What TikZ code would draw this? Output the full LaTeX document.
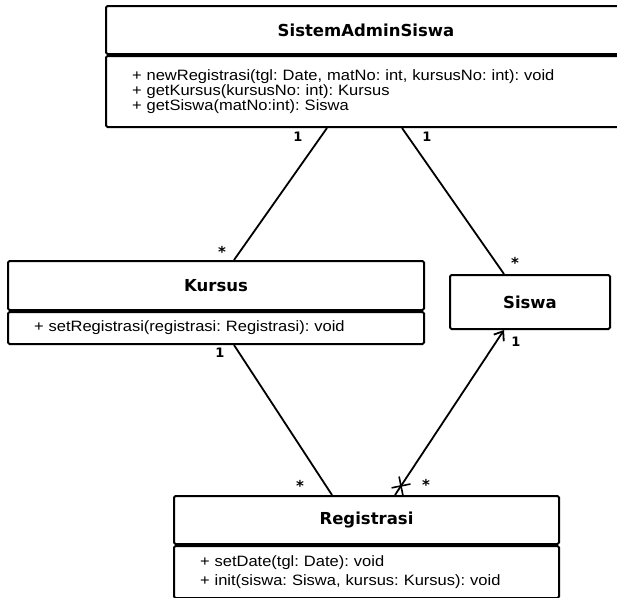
\documentclass[tikz,border=0pt]{standalone}
\usepackage{fontspec}
\setmainfont{Liberation Sans}
\newfontfamily\classfont{DejaVu Sans}
\newfontfamily\opsfont[FakeStretch=1.1]{Liberation Sans}
\usetikzlibrary{positioning,arrows.meta,shapes.misc}

\begin{document}
\frenchspacing
\begin{tikzpicture}[
    x=1pt, y=-1pt,
    node distance=0pt,
    classhead/.style={draw, line width=2pt, rounded corners=1.5pt, inner sep=0pt, font=\classfont\bfseries\fontsize{16.5}{18}\selectfont},
    ops/.style={draw, line width=2pt, rounded corners=1.5pt, inner xsep=26pt, inner ysep=0pt, align=left, font=\opsfont\fontsize{15}{15}\selectfont},
    assoc/.style={line width=1.8pt},
    nav/.style={assoc, -{Straight Barb[length=8pt, width=12pt, line width=1.8pt]}},
    mult/.style={font=\classfont\bfseries\fontsize{13}{13}\selectfont, inner sep=0pt},
    many/.style={mult, font=\classfont\bfseries\fontsize{15}{15}\selectfont, yshift=-5pt},
    nonav/.style={cross out, draw, line width=1.6pt, minimum size=12pt, inner sep=0pt, sloped},
]
\useasboundingbox (0,0) rectangle (617,597);
\clip (0,0) rectangle (617,597);

% SistemAdminSiswa
\node[classhead, anchor=north west, minimum width=520pt, minimum height=48pt] (admin) at (105,5) {SistemAdminSiswa};
\node[ops, below=of admin, text width=468pt, minimum height=71pt] (adminops)
  {+ newRegistrasi(tgl: Date, matNo: int, kursusNo: int): void\\
   + getKursus(kursusNo: int): Kursus\\
   + getSiswa(matNo:int): Siswa};

% Kursus
\node[classhead, anchor=north west, minimum width=416pt, minimum height=49pt] (kursus) at (7,260) {Kursus};
\node[ops, below=of kursus, text width=364pt, minimum height=32pt] (kursusops)
  {+ setRegistrasi(registrasi: Registrasi): void};

% Siswa
\node[classhead, anchor=north west, minimum width=160pt, minimum height=54pt] (siswa) at (449,274) {Siswa};

% Registrasi
\node[classhead, anchor=north west, minimum width=385pt, minimum height=48pt] (reg) at (173,495) {Registrasi};
\node[ops, below=of reg, text width=333pt, minimum height=52pt] (regops)
  {+ setDate(tgl: Date): void\\[4pt]
   + init(siswa: Siswa, kursus: Kursus): void};

% associations
\draw[assoc] ([xshift=222pt]adminops.south west) -- ([xshift=227pt]kursus.north west);
\draw[assoc] ([xshift=297pt]adminops.south west) -- ([xshift=55pt]siswa.north west);
\draw[assoc] ([xshift=227pt]kursusops.south west) -- ([xshift=159pt]reg.north west);
\draw[nav] ([xshift=222pt]reg.north west) -- node[nonav, pos=0.055] (cut) {} ([xshift=55pt]siswa.south west);

% multiplicities
\node[mult] (m1) at (298,137) {1};
\node[many] (m2) at (222,247) {*};
\node[mult] (m3) at (427,137) {1};
\node[many] (m4) at (515,258) {*};
\node[mult] (m5) at (220,353) {1};
\node[many] (m6) at (300,481) {*};
\node[mult] (m7) at (516,342) {1};
\node[many] (m8) at (426,480) {*};

\end{tikzpicture}
\end{document}
